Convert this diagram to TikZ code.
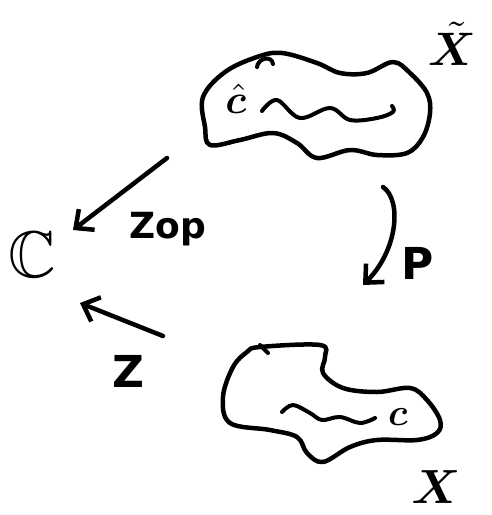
\documentclass[tikz,border=0pt]{standalone}
\usepackage{amssymb}
\usepackage{bm}
\usepackage{graphicx}
\usepackage{fontspec}
\setsansfont{DejaVu Sans}
\usetikzlibrary{arrows.meta}
\begin{document}
\begin{tikzpicture}[x=1pt,y=-1pt,
  ink/.style={line width=4.5pt,line cap=round,line join=round},
  fine ink/.style={line width=4pt,line cap=round,line join=round},
  arr/.style={ink,-{Straight Barb[length=14pt,width=26pt,line width=4.5pt]}},
  lab/.style={inner sep=0pt,font=\sffamily\bfseries}]
\useasboundingbox (0,0) rectangle (492,515);
% top blob
\draw[ink] plot[smooth cycle,tension=0.6] coordinates {
 (203,97) (225,72) (257,57) (282,53) (317,63) (340,73) (367,73) (393,62)
 (410,73) (427,93) (430,113) (423,137) (407,153) (377,155) (350,150)
 (317,158) (297,143) (273,133) (240,140) (210,145) (205,127)};
\draw[fine ink] (257,67) .. controls (258,58) and (272,55) .. (273,64);
\draw[fine ink] plot[smooth,tension=0.6] coordinates {
 (262,111) (277,100) (300,118) (330,108) (350,120) (377,118) (393,112) (392,106)};
\node[inner sep=0pt] (ch) at (236,99) {\scalebox{4.1}{$\bm{\hat{c}}$}};
\node[inner sep=0pt] (Xt) at (452,44) {\scalebox{4.7}{$\bm{\tilde{X}}$}};
% bottom blob
\draw[ink] plot[smooth cycle,tension=0.6] coordinates {
 (260,347) (320,345) (325,357) (323,373) (343,388) (377,392) (410,388)
 (427,400) (440,420) (437,433) (417,440) (377,440) (350,447) (323,462)
 (307,453) (297,437) (270,430) (230,423) (223,397) (233,367) (247,352)};
\draw[fine ink] (260,345) -- (268,353);
\draw[fine ink] plot[smooth,tension=0.6] coordinates {
 (282,412) (293,405) (310,413) (322,420) (340,417) (360,423) (375,418)};
\node[inner sep=0pt] (cc) at (398,417) {\scalebox{3.8}{$\bm{c}$}};
\node[inner sep=0pt] (X) at (436,487) {\scalebox{4.8}{$\bm{X}$}};
% C
\node[inner sep=0pt] (C) at (32,255) {\scalebox{6.6}{$\mathbb{C}$}};
% arrows
\coordinate (zopS) at (167,158);
\coordinate (zopE) at (73,230);
\draw[arr] (zopS) -- (zopE);
\node[lab,font=\sffamily\bfseries\fontsize{36}{36}\selectfont] (zop) at (168,229) {Zop};
\coordinate (zS) at (163,336);
\coordinate (zE) at (80,303);
\draw[arr] (zS) -- (zE);
\node[lab,font=\sffamily\bfseries\fontsize{44}{44}\selectfont] (z) at (128,371) {Z};
\coordinate (pS) at (383,187);
\coordinate (pE) at (363,285);
\draw[arr] (pS) .. controls (402,200) and (398,250) .. (pE);
\node[lab,font=\sffamily\bfseries\fontsize{44}{44}\selectfont] (p) at (418,263) {P};
\end{tikzpicture}
\end{document}
